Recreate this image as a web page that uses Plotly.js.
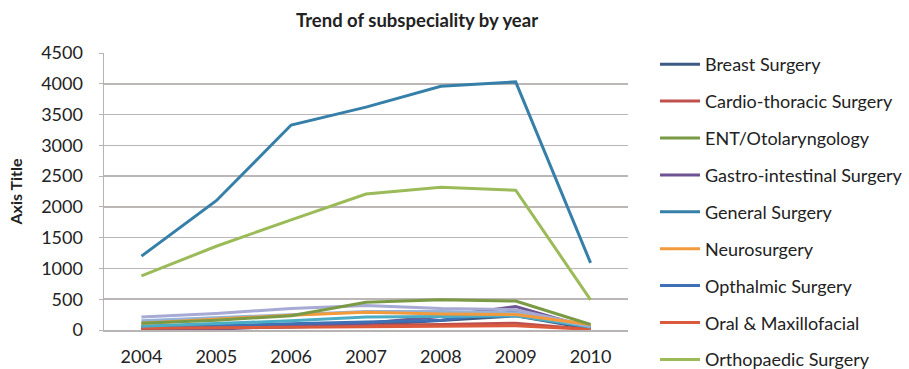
<!DOCTYPE html>
<html>
<head>
<meta charset="utf-8">
<script src="https://cdn.plot.ly/plotly-3.0.1.min.js"></script>
<style>html,body{margin:0;padding:0;background:#fff;}#chart{width:909px;height:369px;}</style>
</head>
<body>
<div id="chart"></div>
<script>
const years = ["2004","2005","2006","2007","2008","2009","2010"];
const seriesNames = ["Breast Surgery","Cardio-thoracic Surgery","ENT/Otolaryngology","Gastro-intestinal Surgery","General Surgery","Neurosurgery","Opthalmic Surgery","Oral & Maxillofacial","Orthopaedic Surgery","Paediatric Surgery","Plastic Surgery","Urology"];
const breast      = [20, 30, 50, 80, 150, 230, 20];
const cardio      = [40, 50, 60, 70, 90, 110, 10];
const ent         = [110, 160, 230, 450, 490, 470, 90];
const gastro      = [10, 15, 60, 110, 220, 380, 30];
const general     = [1200, 2100, 3330, 3620, 3960, 4030, 1090];
const neuro       = [110, 180, 240, 290, 260, 250, 90];
const opthalmic   = [60, 70, 100, 130, 160, 300, 40];
const oral        = [30, 40, 40, 50, 60, 70, 10];
const ortho       = [880, 1360, 1790, 2210, 2320, 2270, 490];
const paediatric  = [210, 270, 350, 400, 350, 330, 60];
const plastic     = [60, 100, 150, 210, 220, 230, 50];
const urology     = [150, 200, 260, 300, 300, 280, 60];
const yTicks = [0,500,1000,1500,2000,2500,3000,3500,4000,4500];

const values = [breast, cardio, ent, gastro, general, neuro, opthalmic, oral, ortho, paediatric, plastic, urology];
const colors = ["#3B5A84","#C0504D","#7B9A45","#6E5490","#357FA8","#F39A3C","#3F6FB5","#DC5A3C","#9BBB59","#A6AAD4","#4BACC6","#95B3D7"];
const inLegend = [true,true,true,true,true,true,true,true,true,false,false,false];

const traces = values.map((v,i)=>({
  type:'scatter', mode:'lines', x: years, y: v, name: seriesNames[i],
  line:{color: colors[i], width: 3}, showlegend: inLegend[i], legendgroup: 'g'+i, legendrank: i
}));
const order = [0,1,3,6,7,10,11,9,5,2,8,4];
const data = order.map(i=>traces[i]);

const font = "Lato, 'Open Sans', sans-serif";
const layout = {
  width: 909, height: 369,
  margin: {l:104, r:281, t:53, b:39, autoexpand:false},
  paper_bgcolor:'#fff', plot_bgcolor:'#fff',
  title: {text:'Trend of subspeciality by year', font:{family:font, size:18.5, color:'#222', weight:'bold'}, x:417/909, xref:'container', xanchor:'center', y:1-21/369, yref:'container', yanchor:'middle'},
  xaxis: {type:'category', range:[-0.5,6.5], showgrid:false, showline:true, linecolor:'#B8B4B4', linewidth:1.5, ticks:'', ticklabelstandoff:10, tickfont:{family:font, size:18, color:'#222'}, fixedrange:true, zeroline:false},
  yaxis: {range:[0,4500], tickvals:yTicks, ticktext:yTicks.map(String), showgrid:true, gridcolor:'#BDB6B6', gridwidth:1.5, showline:true, linecolor:'#B8B4B4', linewidth:1.5, ticks:'outside', ticklen:4, tickcolor:'#B8B4B4', ticklabelstandoff:12, tickfont:{family:font, size:18, color:'#222'}, zeroline:false,
    title:{text:'Axis Title', font:{family:font, size:16, color:'#222', weight:'bold'}, standoff:14}},
  legend: {x:655/909, xref:'container', xanchor:'left', y:1-46/369, yref:'container', yanchor:'top', font:{family:font, size:18, color:'#222'}, tracegroupgap:10.5, itemwidth:40, bgcolor:'rgba(0,0,0,0)', maxheight:400},
  showlegend:true
};
Plotly.newPlot('chart', data, layout, {displayModeBar:false, staticPlot:true});
</script>
</body>
</html>
